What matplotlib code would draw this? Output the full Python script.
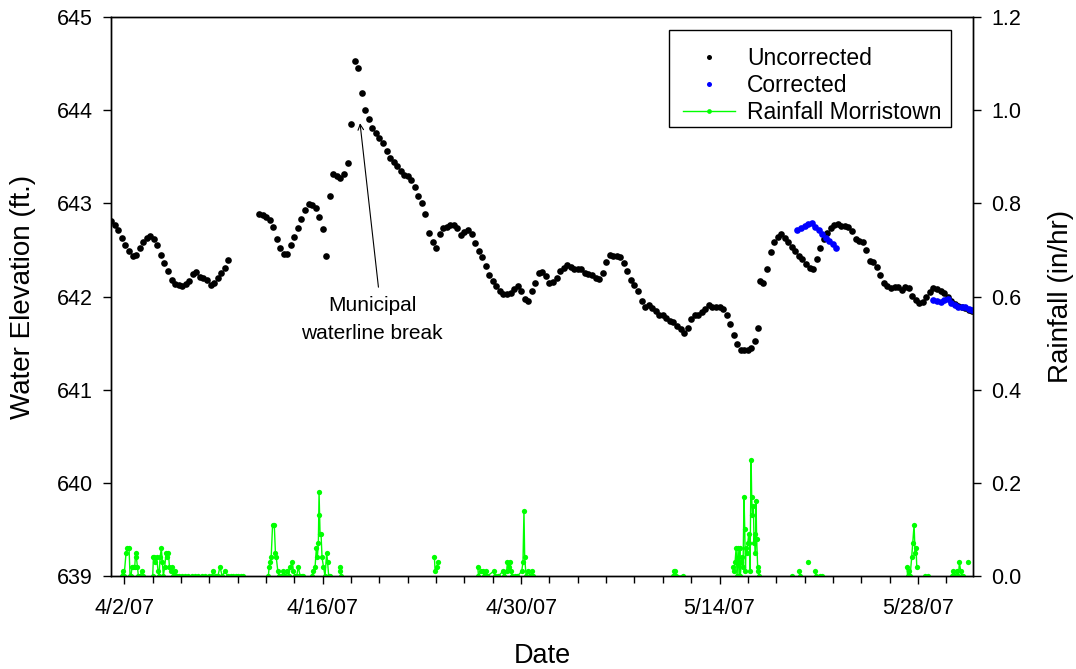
import numpy as np
import matplotlib
matplotlib.use('Agg')
import matplotlib.pyplot as plt
import matplotlib.dates as mdates
from matplotlib.lines import Line2D
from matplotlib.patches import Rectangle
from matplotlib.ticker import FormatStrFormatter, MultipleLocator

plt.rcParams['font.family'] = ['Liberation Sans', 'DejaVu Sans']

# logger readings, 6-hourly, day offsets counted from 4/2/07 00:00
base = np.datetime64('2007-04-02T00:00')
step = 0.25

seg1_start = -0.92
seg1_vals = [642.81, 642.77, 642.71, 642.63, 642.55, 642.49, 642.44, 642.45, 642.52, 642.58,
             642.63, 642.65, 642.62, 642.55, 642.45, 642.36, 642.27, 642.18, 642.13, 642.12,
             642.11, 642.13, 642.17, 642.24, 642.26, 642.21, 642.20, 642.18, 642.12, 642.15,
             642.20, 642.25, 642.31, 642.39]

seg2_start = 9.5
seg2_vals = [642.89, 642.87, 642.85, 642.82, 642.75, 642.62, 642.52, 642.46, 642.46, 642.55,
             642.64, 642.73, 642.83, 642.93, 642.99, 642.98, 642.95, 642.85, 642.72, 642.43]

seg3_start = 14.5
seg3_vals = [643.08, 643.32, 643.29, 643.27, 643.31, 643.43, 643.85, 644.53, 644.45, 644.18,
             644.00, 643.90, 643.81, 643.75, 643.70, 643.65, 643.56, 643.49, 643.44, 643.40,
             643.35, 643.30, 643.29, 643.25, 643.17, 643.08, 643.00, 642.89, 642.68, 642.59,
             642.52, 642.67, 642.73, 642.75, 642.77, 642.77, 642.74, 642.66, 642.69, 642.71,
             642.67, 642.57, 642.49, 642.42, 642.33, 642.23, 642.17, 642.11, 642.06, 642.03,
             642.03, 642.04, 642.08, 642.11, 642.06, 641.97, 641.95, 642.06, 642.15, 642.25,
             642.26, 642.22, 642.15, 642.16, 642.20, 642.27, 642.31, 642.34, 642.32, 642.30,
             642.30, 642.29, 642.25, 642.24, 642.23, 642.20, 642.19, 642.25, 642.37, 642.45,
             642.43, 642.44, 642.42, 642.36, 642.27, 642.18, 642.12, 642.06, 641.95, 641.89,
             641.91, 641.88, 641.84, 641.80, 641.80, 641.77, 641.74, 641.73, 641.68, 641.65,
             641.61, 641.66, 641.76, 641.80, 641.80, 641.83, 641.87, 641.91, 641.89, 641.89,
             641.89, 641.87, 641.80, 641.71, 641.59, 641.49, 641.43, 641.43, 641.43, 641.45,
             641.52, 641.66]

seg4_start = 44.85
seg4_vals = [642.17, 642.15, 642.30, 642.48, 642.59, 642.64, 642.67, 642.63, 642.58, 642.53,
             642.49, 642.44, 642.40, 642.35, 642.31, 642.29, 642.40, 642.52, 642.62, 642.68,
             642.73, 642.77, 642.78, 642.76, 642.76, 642.75, 642.70, 642.62, 642.60, 642.58,
             642.50, 642.38, 642.37, 642.32, 642.23, 642.15, 642.11, 642.09, 642.10, 642.10,
             642.07, 642.10, 642.09, 642.01, 641.96, 641.93, 641.94, 641.99, 642.05, 642.09,
             642.08, 642.06, 642.04, 641.99, 641.95, 641.92, 641.90, 641.89, 641.88, 641.86,
             641.84]

corr1_start = 47.5
corr1_vals = [642.71, 642.73, 642.76, 642.78, 642.79, 642.75, 642.71, 642.67, 642.63, 642.60,
              642.56, 642.52]

corr2_start = 57.1
corr2_vals = [641.96, 641.95, 641.94, 641.96, 641.97, 641.93, 641.91, 641.89, 641.89, 641.89,
              641.87, 641.86]

# rainfall (in/hr), NaN marks missing records
rain_day = [-0.19, -0.12, -0.02, 0.12, 0.21, 0.33, 0.40, 0.47, 0.54, 0.64, 0.73, 0.80, 0.85, 0.92,
            0.99, 1.11, 1.23, 1.34, np.nan,
            2.00, 2.05, 2.12, 2.19, 2.28, 2.38, 2.45, 2.52, 2.61, 2.68, 2.75, 2.85, 2.94, 3.04,
            3.11, 3.18, 3.27, 3.37, 3.46, 3.56, 3.65, 3.74, 3.84, np.nan,
            4.05, 4.28, 4.52, 4.76, 5.00, 5.20, 5.45, 5.70, 5.95, 6.15, 6.29, 6.45, 6.60, 6.75,
            6.90, 7.11, 7.30, 7.50, 7.70, 7.90, 8.05, 8.25, 8.40, np.nan,
            10.16, 10.22, 10.28, 10.36, 10.46, 10.58, 10.66, 10.72, 10.83, 10.94, 11.10, 11.22,
            11.35, 11.46, 11.60, 11.70, 11.86, 11.93, 12.05, 12.16, 12.28, 12.40, 12.52, 12.63, np.nan,
            13.23, 13.34, 13.46, 13.55, 13.62, 13.69, 13.72, 13.74, 13.81, 13.88, 13.95, 14.05,
            14.16, 14.28, 14.34, 14.42, 14.52, np.nan,
            15.22, 15.25, 15.28, np.nan,
            21.88, 21.93, 22.05, 22.12, np.nan,
            24.94, 24.99, 25.17, 25.29, 25.39, 25.53, 25.62, 26.05, 26.16, 26.40, 26.70, 26.80,
            26.98, 27.03, 27.13, 27.22, 27.29, 27.38, 27.57, 27.74, 28.04, 28.13, 28.20, 28.25,
            28.35, 28.51, 28.63, 28.75, 28.82, np.nan,
            38.74, 38.78, 38.86, 38.93, 39.45, np.nan,
            42.98, 43.05, 43.10, 43.17, 43.24, 43.31, 43.38, 43.43, 43.47, 43.54, 43.62, 43.66,
            43.73, 43.78, 43.83, 43.87, 43.92, 43.99, 44.06, 44.11, 44.15, 44.23, 44.27, 44.32,
            44.39, 44.44, 44.48, 44.53, 44.58, 44.62, 44.69, 44.74, 44.81, np.nan,
            47.10, np.nan, 47.64, 47.69, np.nan, 48.23, np.nan, 48.75, 48.82, 49.10, 49.22, np.nan,
            55.21, 55.28, 55.37, 55.45, 55.56, 55.63, 55.73, 55.80, 55.87, 55.92, np.nan,
            56.51, 56.68, np.nan,
            58.39, 58.51, 58.62, 58.74, 58.86, 58.93, 59.02, 59.09, 59.21, np.nan, 59.50]
rain_val = [0, 0.01, 0, 0.05, 0.06, 0.06, 0, 0, 0.02, 0.02, 0.02, 0.05, 0.04, 0.02,
            0, 0, 0.01, 0, np.nan,
            0, 0.04, 0.04, 0.03, 0.04, 0.01, 0, 0.04, 0.06, 0.03, 0, 0.02, 0.05, 0.04,
            0.05, 0.02, 0.01, 0.02, 0, 0.01, 0, 0, 0, np.nan,
            0, 0, 0, 0, 0, 0, 0, 0, 0, 0, 0.01, 0, 0, 0.02,
            0, 0.01, 0, 0, 0, 0, 0, 0, 0, np.nan,
            0, 0.02, 0.03, 0.04, 0.11, 0.11, 0.05, 0.04, 0.01, 0, 0, 0.01,
            0, 0.01, 0, 0.02, 0.03, 0.01, 0, 0, 0.02, 0, 0, 0, np.nan,
            0, 0.01, 0.02, 0.06, 0.04, 0.07, 0.13, 0.18, 0.09, 0.09, 0.04, 0.02,
            0, 0.05, 0.03, 0, 0, np.nan,
            0.02, 0.01, 0, np.nan,
            0.04, 0.01, 0.02, 0.03, np.nan,
            0.02, 0, 0.01, 0.01, 0, 0.01, 0, 0.01, 0, 0, 0.01, 0,
            0.01, 0.03, 0.02, 0.03, 0.01, 0, 0, 0, 0.01, 0.03, 0.14, 0.04,
            0, 0.01, 0, 0.01, 0, np.nan,
            0, 0.01, 0.01, 0, 0, np.nan,
            0.02, 0.01, 0.03, 0.06, 0, 0.06, 0, 0.06, 0, 0.03, 0.04, 0.02,
            0.17, 0.10, 0.01, 0.06, 0.05, 0.07, 0.09, 0.07, 0.01, 0.25, 0.17, 0.13,
            0.15, 0.07, 0.09, 0.05, 0.16, 0.08, 0.02, 0.01, 0, np.nan,
            0, np.nan, 0.01, 0, np.nan, 0.03, np.nan, 0.01, 0, 0, 0, np.nan,
            0.02, 0, 0.01, 0, 0.04, 0.07, 0.11, 0.05, 0.06, 0.02, np.nan,
            0, 0, np.nan,
            0, 0.01, 0, 0.01, 0, 0.03, 0.01, 0, 0, np.nan, 0.03]

x_start = -0.94
x_end = 59.89
tick_days = [0, 14, 28, 42, 56]

# annotation: text anchor and arrow (day, elevation)
note_text = (17.49, 642.01)
arrow_tip = (16.63, 643.86)
arrow_tail = (17.93, 642.10)


def to_dates(days):
    days = np.asarray(days, dtype=float)
    out = np.full(days.shape, np.datetime64('NaT'), dtype='datetime64[s]')
    ok = ~np.isnan(days)
    out[ok] = base + np.round(days[ok] * 86400).astype('int64').astype('timedelta64[s]')
    return out


def seg_dates(start, vals):
    return to_dates(start + step * np.arange(len(vals)))


def dnum(day):
    return mdates.date2num(to_dates([day])[0])


fig = plt.figure(figsize=(10.76, 6.69), dpi=100)
ax = fig.add_axes([0.1032, 0.139, 0.8011, 0.8356])
ax2 = ax.twinx()

dot = 4.8
for start, vals in [(seg1_start, seg1_vals), (seg2_start, seg2_vals),
                    (seg3_start, seg3_vals), (seg4_start, seg4_vals)]:
    ax.plot(seg_dates(start, vals), vals, 'o', color='black', ms=dot, mew=0, zorder=3)
for start, vals in [(corr1_start, corr1_vals), (corr2_start, corr2_vals)]:
    ax.plot(seg_dates(start, vals), vals, 'o', color='#0000ff', ms=dot, mew=0, zorder=4)

ax2.plot(to_dates(rain_day), rain_val, '-o', color='#00ff00', lw=1, ms=3.8, mew=0, zorder=2)

ax.set_ylim(639, 645)
ax2.set_ylim(0, 1.2)
ax.set_xlim(dnum(x_start), dnum(x_end))

ax.set_xticks(to_dates(tick_days))
ax.xaxis.set_major_formatter(mdates.DateFormatter('%-m/%-d/%y'))
ax.set_xticks(to_dates(np.arange(0, 60, 2)), minor=True)
ax.yaxis.set_major_locator(MultipleLocator(1))
ax2.yaxis.set_major_locator(MultipleLocator(0.2))
ax2.yaxis.set_major_formatter(FormatStrFormatter('%.1f'))

for a in (ax, ax2):
    a.tick_params(which='major', direction='out', length=6, width=1, labelsize=15.5, pad=7)
    a.tick_params(which='minor', direction='out', length=5, width=1)
    for s in a.spines.values():
        s.set_linewidth(1)
ax.tick_params(axis='x', pad=10)

ax.set_xlabel('Date', fontsize=19.5, labelpad=17)
ax.set_ylabel('Water Elevation (ft.)', fontsize=20, labelpad=15)
ax2.set_ylabel('Rainfall (in/hr)', fontsize=20, labelpad=19)

ax.text(dnum(note_text[0]), note_text[1], 'Municipal\nwaterline break',
        ha='center', va='top', fontsize=15, linespacing=1.65)
ax.annotate('', xy=(dnum(arrow_tip[0]), arrow_tip[1]),
            xytext=(dnum(arrow_tail[0]), arrow_tail[1]),
            arrowprops=dict(arrowstyle='->', color='black', lw=0.8, shrinkA=0, shrinkB=0))

# legend entries with a separate square frame
handles = [Line2D([], [], ls='none', marker='o', color='black', ms=3.6, mew=0),
           Line2D([], [], ls='none', marker='o', color='#0000ff', ms=3.6, mew=0),
           Line2D([], [], ls='-', marker='o', color='#00ff00', lw=1, ms=3.4, mew=0)]
fig.legend(handles, ['Uncorrected', 'Corrected', 'Rainfall Morristown'],
           loc='upper left', bbox_to_anchor=(683 / 1076, 1 - 47 / 669), fontsize=16.5,
           frameon=False, handlelength=2.27, handletextpad=0.52, labelspacing=0.18,
           borderpad=0, borderaxespad=0)
fig.patches.append(Rectangle((669 / 1076, 1 - 127 / 669), 282 / 1076, 97 / 669,
                             transform=fig.transFigure, fill=False, ec='black', lw=1, zorder=5))

fig.savefig('out.png', dpi=100)
